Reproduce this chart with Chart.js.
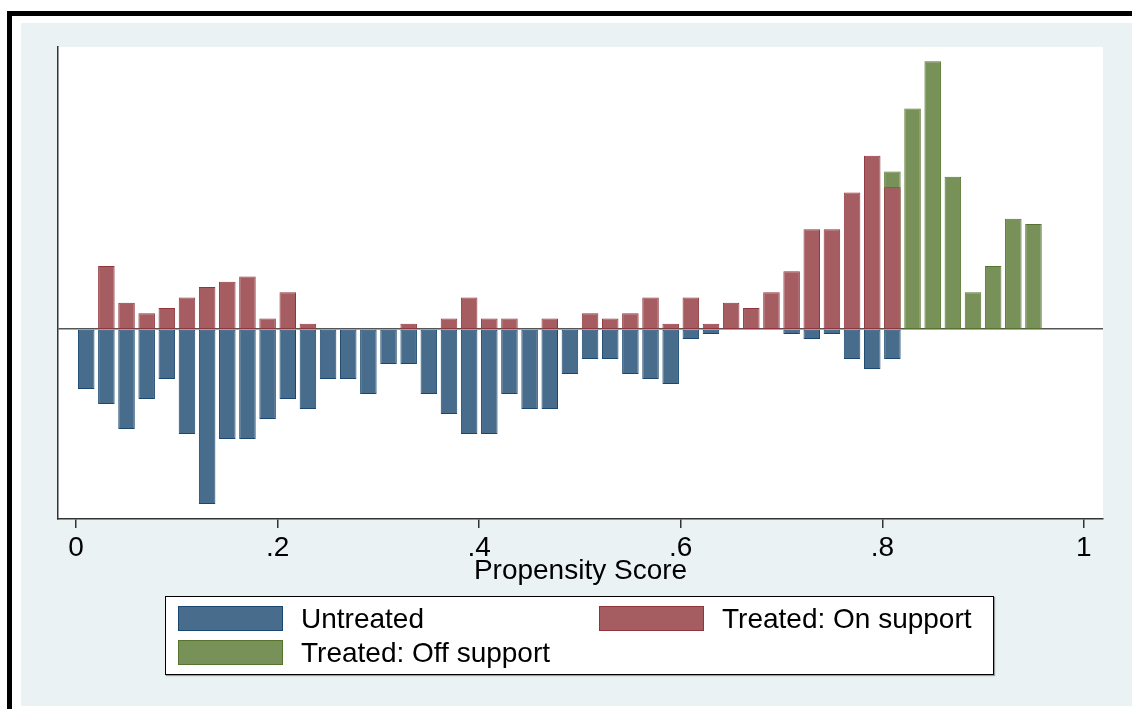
<!DOCTYPE html>
<html lang="en">

<head>
    <meta charset="UTF-8" />
    <meta name="viewport" content="width=device-width, initial-scale=1.0" />
    <title>Propensity Score</title>
    <style>
        body {
            margin: 0;
            background: #fff;
        }

        .page {
            position: relative;
            width: 1132px;
            height: 709px;
            overflow: hidden;
            font-family: "Liberation Sans", Arial, sans-serif;
        }

        .frameTop {
            position: absolute;
            left: 7px;
            top: 11px;
            width: 1125px;
            height: 5px;
            background: #000;
        }

        .frameLeft {
            position: absolute;
            left: 7px;
            top: 11px;
            width: 5px;
            height: 698px;
            background: #000;
        }

        .graphBg {
            position: absolute;
            left: 21px;
            top: 23px;
            width: 1111px;
            height: 683px;
            background: #eaf2f3;
        }

        #myChart {
            position: absolute;
            left: 0;
            top: 0;
        }

        .legendBox {
            position: absolute;
            left: 165px;
            top: 596px;
            width: 827px;
            height: 77px;
            border: 1px solid #000;
            background: #fff;
            box-shadow: 1px 1px 1px rgba(0, 0, 0, 0.35);
        }

        .legendItem {
            position: absolute;
            height: 25px;
            display: flex;
            align-items: center;
        }

        .swatch {
            width: 103px;
            height: 23px;
            border: 1px solid;
        }

        .legendText {
            margin-left: 18px;
            font-size: 28px;
            color: #000;
            white-space: nowrap;
        }
    </style>
</head>

<body>
    <div class="page">
        <div class="frameTop"></div>
        <div class="frameLeft"></div>
        <div class="graphBg"></div>
        <canvas id="myChart" width="1132" height="709"></canvas>
        <div class="legendBox" id="legend"></div>
    </div>

    <script src="https://cdn.jsdelivr.net/npm/chart.js"></script>

    <script>
        // bin centres (bin width .02)
        const binCenters = [
            0.01, 0.03, 0.05, 0.07, 0.09, 0.11, 0.13, 0.15, 0.17, 0.19,
            0.21, 0.23, 0.25, 0.27, 0.29, 0.31, 0.33, 0.35, 0.37, 0.39,
            0.41, 0.43, 0.45, 0.47, 0.49, 0.51, 0.53, 0.55, 0.57, 0.59,
            0.61, 0.63, 0.65, 0.67, 0.69, 0.71, 0.73, 0.75, 0.77, 0.79,
            0.81, 0.83, 0.85, 0.87, 0.89, 0.91, 0.93, 0.95
        ];

        // bar heights per bin (drawn below zero)
        const untreated = [
            12, 15, 20, 14, 10, 21, 35, 22, 22, 18,
            14, 16, 10, 10, 13, 7, 7, 13, 17, 21,
            21, 13, 16, 16, 9, 6, 6, 9, 10, 11,
            2, 1, 0, 0, 0, 1, 2, 1, 6, 8,
            6, 0, 0, 0, 0, 0, 0, 0
        ];

        const treatedOn = [
            0, 12, 5, 3, 4, 6, 8, 9, 10, 2,
            7, 1, 0, 0, 0, 0, 1, 0, 2, 6,
            2, 2, 0, 2, 0, 3, 2, 3, 6, 1,
            6, 1, 5, 4, 7, 11, 19, 19, 26, 33,
            27, 0, 0, 0, 0, 0, 0, 0
        ];

        const treatedOff = [
            0, 0, 0, 0, 0, 0, 0, 0, 0, 0,
            0, 0, 0, 0, 0, 0, 0, 0, 0, 0,
            0, 0, 0, 0, 0, 0, 0, 0, 0, 0,
            0, 0, 0, 0, 0, 0, 0, 0, 0, 0,
            30, 42, 51, 29, 7, 12, 21, 20
        ];

        const xTickValues = [0, 0.2, 0.4, 0.6, 0.8, 1];
        const xTickLabels = ["0", ".2", ".4", ".6", ".8", "1"];

        const fontFamily = "'Liberation Sans', Arial, sans-serif";

        function toPoints(values, sign) {
            return binCenters.map((x, i) => ({ x: x, y: values[i] === 0 ? null : sign * values[i] }));
        }

        // white plot region
        const plotBg = {
            id: "plotBg",
            beforeDraw(chart) {
                const { ctx, chartArea: a } = chart;
                ctx.save();
                ctx.fillStyle = "#fff";
                ctx.fillRect(a.left, a.top, a.right - a.left, a.bottom - a.top);
                ctx.restore();
            },
        };

        const data = {
            datasets: [
                {
                    label: "Untreated",
                    data: toPoints(untreated, -1),
                    yAxisID: "y",
                    backgroundColor: "#486c8c",
                    borderColor: "#1a476f",
                },
                {
                    label: "Treated: On support",
                    data: toPoints(treatedOn, 1),
                    yAxisID: "y2",
                    backgroundColor: "#a65d62",
                    borderColor: "#90353b",
                },
                {
                    label: "Treated: Off support",
                    data: toPoints(treatedOff, 1),
                    yAxisID: "y2",
                    backgroundColor: "#779159",
                    borderColor: "#55752f",
                },
            ],
        };

        const config = {
            type: "bar",
            data,
            plugins: [plotBg],
            options: {
                responsive: false,
                animation: false,
                layout: { padding: { left: 58, top: 47, right: 29, bottom: 121 } },
                datasets: {
                    bar: {
                        grouped: false,
                        barPercentage: 0.82,
                        categoryPercentage: 1,
                        borderWidth: 1,
                        borderSkipped: false,
                    },
                },
                plugins: {
                    legend: { display: false },
                    tooltip: { enabled: false },
                },
                scales: {
                    x: {
                        type: "linear",
                        min: -0.018,
                        max: 1.019,
                        offset: false,
                        afterBuildTicks: (s) => { s.ticks = xTickValues.map((v) => ({ value: v })); },
                        afterFit: (s) => { s.height = 69; },
                        grid: { offset: false, drawOnChartArea: false, tickLength: 9, color: "#333", lineWidth: 1.5 },
                        border: { color: "#333", width: 1.5 },
                        ticks: {
                            padding: 3,
                            color: "#000",
                            maxRotation: 0,
                            autoSkip: false,
                            font: { size: 28, family: fontFamily },
                            callback: (value, index) => xTickLabels[index],
                        },
                        title: {
                            display: true,
                            text: "Propensity Score",
                            color: "#000",
                            padding: 0,
                            font: { size: 28, family: fontFamily },
                        },
                    },
                    y: {
                        type: "linear",
                        position: "left",
                        min: -38,
                        max: 56.4,
                        z: 1,
                        afterFit: (s) => { s.width = 0; },
                        afterBuildTicks: (s) => { s.ticks = [{ value: 0 }]; },
                        ticks: { display: false },
                        grid: { drawTicks: false, color: "#555", lineWidth: 1.5 },
                        border: { color: "#333", width: 1.5 },
                    },
                    y2: {
                        type: "linear",
                        position: "left",
                        display: false,
                        min: -36.19,
                        max: 53.71,
                    },
                },
            },
        };

        // render
        const myChart = new Chart(document.getElementById("myChart"), config);

        // legend box, two columns
        const legendSlots = [
            { left: 12, top: 9 },
            { left: 433, top: 9 },
            { left: 12, top: 43 },
        ];
        const legendEl = document.getElementById("legend");
        myChart.data.datasets.forEach((ds, i) => {
            const item = document.createElement("div");
            item.className = "legendItem";
            item.style.left = legendSlots[i].left + "px";
            item.style.top = legendSlots[i].top + "px";
            const sw = document.createElement("div");
            sw.className = "swatch";
            sw.style.background = ds.backgroundColor;
            sw.style.borderColor = ds.borderColor;
            const txt = document.createElement("span");
            txt.className = "legendText";
            txt.textContent = ds.label;
            item.appendChild(sw);
            item.appendChild(txt);
            legendEl.appendChild(item);
        });
    </script>
</body>

</html>
